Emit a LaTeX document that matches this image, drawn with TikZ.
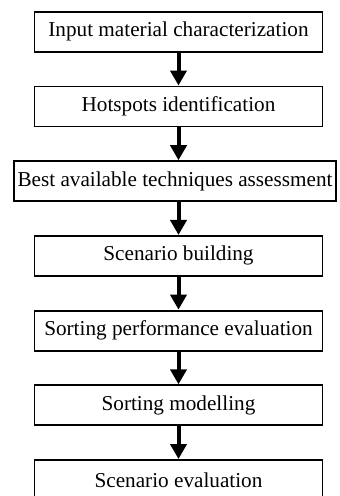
\documentclass[tikz,border=0pt]{standalone}
\usepackage{fontspec}
\setmainfont{Liberation Serif}
\usetikzlibrary{arrows.meta}
\usetikzlibrary{positioning}
\tikzset{
	stage/.style={draw, line width=0.95pt, minimum width=144pt, minimum height=20pt, inner sep=0pt, font=\fontsize{10.6}{12}\selectfont},
	flow/.style={line width=2pt, -{Triangle[width=8pt,length=7.5pt]}},
}

\begin{document}
\begin{tikzpicture}[node distance=16.4pt]
	\useasboundingbox (0,0) rectangle (169.5pt,-248pt);
	
	\node[stage] (input) at (89.25pt,-15.9pt) {Input material characterization};
	\node[stage, below=of input] (hotspots) {Hotspots identification};
	\node[stage, below=of hotspots, minimum width=161pt, xshift=-1.75pt] (bat) {Best available techniques assessment};
	\node[stage, below=of bat, xshift=1.75pt] (building) {Scenario building};
	\node[stage, below=of building] (performance) {Sorting performance evaluation};
	\node[stage, below=of performance] (modelling) {Sorting modelling};
	\node[stage, below=of modelling] (evaluation) {Scenario evaluation};
	
	\foreach \a/\b in {input/hotspots, hotspots/bat, bat/building, building/performance, performance/modelling, modelling/evaluation}
		\draw[flow] (input.south |- \a.south) -- (input.south |- \b.north);
\end{tikzpicture}
\end{document}
